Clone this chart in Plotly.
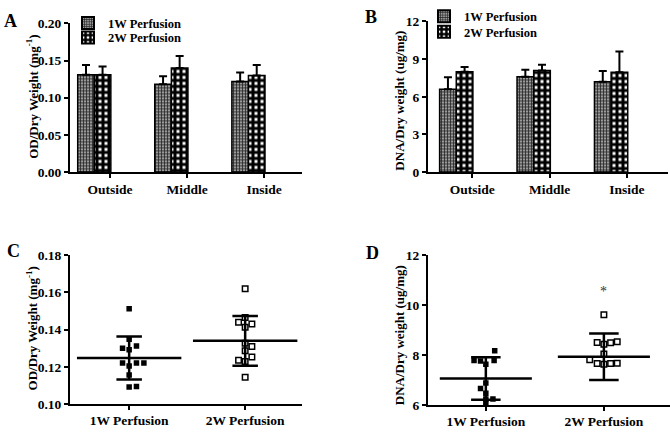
import plotly.graph_objects as go

W, H = 670, 433

# ---------------- data ----------------
regions = ["Outside", "Middle", "Inside"]
groups = ["1W Perfusion", "2W Perfusion"]

# Panel A: OD / dry weight (mean, +SD)
a_1w = [0.131, 0.118, 0.122]
a_1w_err = [0.013, 0.011, 0.012]
a_2w = [0.131, 0.140, 0.130]
a_2w_err = [0.011, 0.016, 0.014]

# Panel B: DNA / dry weight (mean, +SD)
b_1w = [6.6, 7.6, 7.2]
b_1w_err = [0.95, 0.55, 0.85]
b_2w = [8.0, 8.1, 7.95]
b_2w_err = [0.38, 0.45, 1.65]

# Panel C: individual OD / dry weight values
c_1w = [0.1511, 0.1349, 0.1301, 0.1292, 0.1313, 0.1222, 0.1222, 0.1222, 0.1206, 0.1158, 0.1093, 0.1096]
c_1w_jit = [0.0, 0.0, -0.057, 0.0, 0.063, -0.057, 0.063, 0.127, 0.0, 0.0, 0.0, 0.063]
c_2w = [0.1619, 0.1465, 0.1439, 0.1413, 0.1430, 0.1327, 0.1287, 0.1310, 0.1253, 0.1236, 0.1229, 0.1146]
c_2w_jit = [0.0, 0.0, -0.057, 0.0, 0.058, 0.0, 0.0, 0.058, 0.058, -0.057, 0.0, 0.0]
c_mean = [0.1248, 0.1340]
c_sd = [0.0115, 0.0133]

# Panel D: individual DNA / dry weight values
d_1w = [8.19, 7.80, 7.78, 7.80, 7.65, 6.68, 6.90, 6.49, 6.26, 6.26, 6.08]
d_1w_jit = [0.075, -0.10, -0.045, 0.07, 0.0, -0.045, 0.0, 0.0, 0.0, 0.06, 0.0]
d_2w = [9.63, 8.52, 8.45, 8.51, 8.55, 8.06, 7.83, 7.68, 7.65, 7.68, 7.69]
d_2w_jit = [0.0, -0.057, 0.0, 0.057, 0.113, 0.0, -0.12, -0.057, 0.0, 0.057, 0.113]
d_mean = [7.08, 7.95]
d_sd = [0.85, 0.93]
d_star_y = 10.55

# ---------------- style ----------------
FONT = "Liberation Serif"
bold = dict(family=FONT, size=13.5, color="black", weight="bold")

def px(x):
    return x / W

def py(y):
    return 1 - y / H

fig = go.Figure()

pat_1w = dict(shape="+", fgcolor="#222222", bgcolor="#9a9a9a", size=3, solidity=0.45, fgopacity=1)
pat_2w = dict(shape="+", fgcolor="black", bgcolor="white", size=6, solidity=0.75, fgopacity=1)

BAR_W = 0.215
OFF_1W = -0.42
OFF_2W = -0.205
xs = list(range(len(regions)))

for (vals, errs, name, pat, off, xa, ya, leg) in [
    (a_1w, a_1w_err, groups[0], pat_1w, OFF_1W, "x", "y", "legend"),
    (a_2w, a_2w_err, groups[1], pat_2w, OFF_2W, "x", "y", "legend2"),
    (b_1w, b_1w_err, groups[0], pat_1w, OFF_1W, "x2", "y2", "legend3"),
    (b_2w, b_2w_err, groups[1], pat_2w, OFF_2W, "x2", "y2", "legend4"),
]:
    fig.add_trace(go.Bar(
        x=xs, y=vals, width=BAR_W, offset=off, name=name,
        xaxis=xa, yaxis=ya, legend=leg,
        marker=dict(color=pat["bgcolor"], line=dict(color="black", width=1.5), pattern=pat),
        error_y=dict(type="data", array=errs, arrayminus=[0] * len(errs), symmetric=False,
                     color="black", thickness=2, width=4),
    ))

# scatter panels
def dot_panel(v1, j1, v2, j2, mean, sd, xa, ya, half, cap):
    fig.add_trace(go.Scatter(
        x=[0 + j for j in j1], y=v1, mode="markers", xaxis=xa, yaxis=ya, showlegend=False,
        marker=dict(symbol="square", size=5.5, color="black"),
    ))
    fig.add_trace(go.Scatter(
        x=[1 + j for j in j2], y=v2, mode="markers", xaxis=xa, yaxis=ya, showlegend=False,
        marker=dict(symbol="square-open", size=5.5, color="black", line=dict(width=1.5)),
    ))
    for i in range(2):
        m, s = mean[i], sd[i]
        fig.add_trace(go.Scatter(
            x=[i - half, i + half], y=[m, m], mode="lines", xaxis=xa, yaxis=ya,
            showlegend=False, line=dict(color="black", width=2.5),
        ))
        fig.add_trace(go.Scatter(
            x=[i - cap, i + cap, None, i, i, None, i - cap, i + cap],
            y=[m + s, m + s, None, m + s, m - s, None, m - s, m - s],
            mode="lines", xaxis=xa, yaxis=ya, showlegend=False,
            line=dict(color="black", width=2.5),
        ))

dot_panel(c_1w, c_1w_jit, c_2w, c_2w_jit, c_mean, c_sd, "x3", "y3", 0.45, 0.11)
dot_panel(d_1w, d_1w_jit, d_2w, d_2w_jit, d_mean, d_sd, "x4", "y4", 0.39, 0.125)

# ---------------- axes ----------------
axis_common = dict(showgrid=False, zeroline=False, showline=True, linecolor="black", linewidth=2,
                   ticks="outside", ticklen=4, tickwidth=1.5, tickcolor="black",
                   tickfont=bold, fixedrange=True)

fig.update_layout(
    xaxis=dict(axis_common, domain=[px(70), px(302)], range=[-0.52, 2.49], anchor="y",
               tickvals=xs, ticktext=regions),
    yaxis=dict(axis_common, domain=[py(171), py(17)], range=[0, 0.2], anchor="x",
               tickvals=[0, 0.05, 0.10, 0.15, 0.20], tickformat=".2f"),
    xaxis2=dict(axis_common, domain=[px(428), px(668)], range=[-0.57, 2.53], anchor="y2",
                tickvals=xs, ticktext=regions),
    yaxis2=dict(axis_common, domain=[py(171), py(15)], range=[0, 12], anchor="x2",
                tickvals=[0, 3, 6, 9, 12]),
    xaxis3=dict(axis_common, domain=[px(70), px(302)], range=[-0.51, 1.49], anchor="y3",
                tickvals=[0, 1], ticktext=groups, ticklabelstandoff=-2),
    yaxis3=dict(axis_common, domain=[py(411.7), py(256.7)], range=[0.10, 0.18], anchor="x3",
                tickvals=[0.10, 0.12, 0.14, 0.16, 0.18], tickformat=".2f"),
    xaxis4=dict(axis_common, domain=[px(428), px(670)], range=[-0.49, 1.56], anchor="y4",
                tickvals=[0, 1], ticktext=groups, ticklabelstandoff=-2),
    yaxis4=dict(axis_common, domain=[py(412.7), py(257.3)], range=[6, 12], anchor="x4",
                tickvals=[6, 8, 10, 12]),
)

leg_common = dict(font=dict(family=FONT, size=12.5, color="black", weight="bold"),
                  bgcolor="rgba(0,0,0,0)", xanchor="left", yanchor="middle",
                  itemsizing="constant")
fig.update_layout(
    legend=dict(leg_common, x=px(68), y=py(17)),
    legend2=dict(leg_common, x=px(68), y=py(32)),
    legend3=dict(leg_common, x=px(424), y=py(10)),
    legend4=dict(leg_common, x=px(424), y=py(26)),
)

# ---------------- titles / labels ----------------
ann = []
def label(text, x, y, size=12, angle=0):
    ann.append(dict(text=text, x=px(x), y=py(y), xref="paper", yref="paper", showarrow=False,
                    textangle=angle, xanchor="center", yanchor="middle",
                    font=dict(family=FONT, size=size, color="black", weight="bold")))

label("OD/Dry Weight (mg<sup>-1</sup>)", 32, 93, 13, -90)
label("DNA/Dry weight (ug/mg)", 400, 97, 13, -90)
label("OD/Dry Weight (mg<sup>-1</sup>)", 32, 333, 13, -90)
label("DNA/Dry weight (ug/mg)", 399, 340, 13, -90)
label("A", 10, 14, 18)
label("B", 371, 10, 18)
label("C", 13, 253, 18)
label("D", 372, 255, 18)
ann.append(dict(text="*", x=1, y=d_star_y, xref="x4", yref="y4", showarrow=False,
                font=dict(family=FONT, size=14, color="#333")))

fig.update_layout(
    annotations=ann,
    width=W, height=H, margin=dict(l=0, r=0, t=0, b=0),
    paper_bgcolor="white", plot_bgcolor="white", barmode="overlay",
)

fig.write_html("out.html", config={"displayModeBar": False},
               post_script="document.body.style.margin='0';")
